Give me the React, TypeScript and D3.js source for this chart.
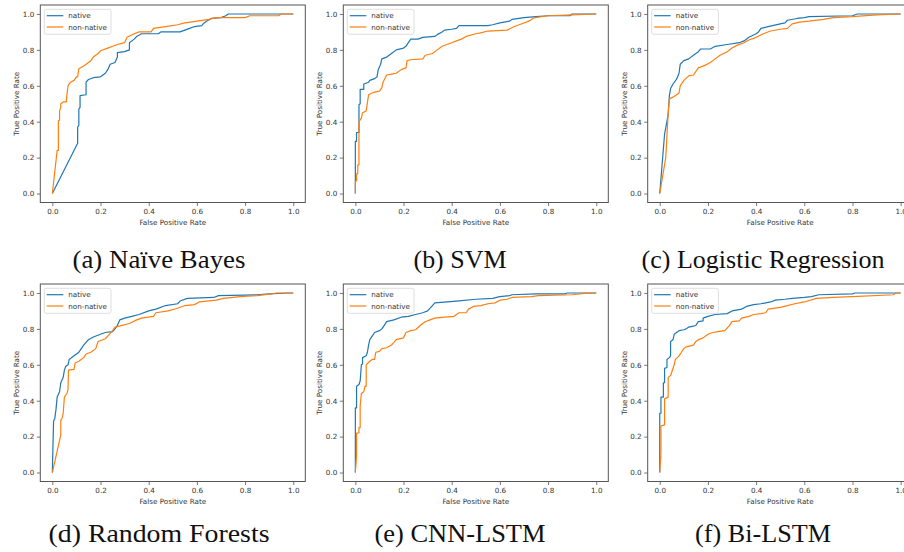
import React, { useEffect, useRef } from "react";
import * as d3 from "d3";

// ROC points [false positive rate, true positive rate]
const nbNative = [[0,0],[0.105,0.28],[0.105,0.37],[0.11,0.38],[0.11,0.47],[0.115,0.48],[0.115,0.545],[0.14,0.55],[0.14,0.62],[0.15,0.635],[0.17,0.645],[0.2,0.65],[0.21,0.66],[0.22,0.67],[0.23,0.69],[0.24,0.72],[0.26,0.73],[0.27,0.76],[0.27,0.785],[0.3,0.79],[0.32,0.8],[0.32,0.84],[0.34,0.86],[0.35,0.875],[0.37,0.89],[0.44,0.89],[0.45,0.9],[0.53,0.9],[0.55,0.91],[0.57,0.92],[0.59,0.93],[0.62,0.935],[0.63,0.95],[0.64,0.96],[0.66,0.975],[0.7,0.98],[0.72,0.99],[0.73,1.0],[1,1]];
const nbNonNative = [[0,0],[0.02,0.24],[0.025,0.24],[0.025,0.405],[0.03,0.41],[0.03,0.46],[0.035,0.48],[0.035,0.5],[0.045,0.51],[0.058,0.51],[0.06,0.545],[0.065,0.6],[0.075,0.62],[0.09,0.63],[0.1,0.65],[0.105,0.65],[0.11,0.695],[0.13,0.71],[0.14,0.72],[0.16,0.74],[0.17,0.76],[0.19,0.78],[0.2,0.795],[0.23,0.81],[0.25,0.82],[0.27,0.83],[0.3,0.84],[0.31,0.87],[0.34,0.89],[0.36,0.9],[0.41,0.9],[0.42,0.92],[0.47,0.93],[0.52,0.94],[0.55,0.95],[0.6,0.96],[0.65,0.97],[0.68,0.98],[0.8,0.98],[0.82,0.99],[0.94,0.99],[0.95,1.0],[1,1]];

const svmNative = [[0,0],[0,0.29],[0.005,0.29],[0.005,0.34],[0.015,0.34],[0.015,0.495],[0.02,0.5],[0.02,0.58],[0.035,0.58],[0.035,0.61],[0.055,0.62],[0.06,0.63],[0.08,0.64],[0.09,0.65],[0.095,0.69],[0.105,0.72],[0.11,0.75],[0.13,0.76],[0.15,0.78],[0.17,0.8],[0.2,0.81],[0.21,0.82],[0.22,0.84],[0.23,0.86],[0.26,0.86],[0.28,0.87],[0.33,0.875],[0.34,0.885],[0.36,0.9],[0.37,0.91],[0.4,0.915],[0.42,0.92],[0.43,0.935],[0.55,0.935],[0.57,0.94],[0.6,0.95],[0.64,0.96],[0.65,0.97],[0.7,0.98],[0.75,0.985],[0.8,0.99],[0.89,0.99],[0.9,1.0],[1,1]];
const svmNonNative = [[0,0],[0,0.07],[0.005,0.07],[0.005,0.11],[0.01,0.11],[0.01,0.16],[0.015,0.16],[0.015,0.4],[0.02,0.41],[0.025,0.42],[0.03,0.45],[0.045,0.46],[0.055,0.55],[0.07,0.56],[0.08,0.565],[0.1,0.57],[0.11,0.59],[0.115,0.62],[0.13,0.66],[0.15,0.665],[0.17,0.67],[0.19,0.69],[0.21,0.7],[0.215,0.74],[0.23,0.745],[0.28,0.75],[0.29,0.77],[0.32,0.78],[0.34,0.8],[0.36,0.82],[0.38,0.83],[0.4,0.84],[0.42,0.85],[0.44,0.86],[0.46,0.875],[0.5,0.89],[0.52,0.895],[0.55,0.905],[0.63,0.91],[0.66,0.93],[0.7,0.95],[0.72,0.96],[0.74,0.978],[0.8,0.99],[0.9,0.995],[1,1]];

const lrNative = [[0,0],[0.02,0.33],[0.035,0.44],[0.04,0.545],[0.045,0.585],[0.055,0.61],[0.07,0.637],[0.08,0.67],[0.085,0.72],[0.1,0.74],[0.12,0.75],[0.14,0.77],[0.16,0.79],[0.17,0.805],[0.21,0.805],[0.23,0.82],[0.28,0.83],[0.33,0.84],[0.35,0.85],[0.37,0.87],[0.4,0.89],[0.41,0.9],[0.42,0.92],[0.45,0.93],[0.5,0.945],[0.52,0.95],[0.53,0.965],[0.57,0.975],[0.6,0.98],[0.62,0.985],[0.8,0.99],[0.82,1.0],[1,1]];
const lrNonNative = [[0,0],[0.025,0.2],[0.035,0.45],[0.04,0.526],[0.045,0.53],[0.06,0.54],[0.08,0.56],[0.085,0.6],[0.1,0.63],[0.12,0.655],[0.14,0.66],[0.16,0.7],[0.19,0.715],[0.21,0.73],[0.23,0.75],[0.25,0.77],[0.28,0.79],[0.3,0.81],[0.32,0.825],[0.35,0.84],[0.37,0.855],[0.4,0.87],[0.43,0.89],[0.46,0.905],[0.5,0.915],[0.53,0.92],[0.55,0.945],[0.58,0.955],[0.62,0.96],[0.68,0.97],[0.72,0.98],[0.8,0.985],[0.9,0.995],[1,1]];

const rfNative = [[0,0],[0.005,0.285],[0.01,0.3],[0.015,0.35],[0.02,0.42],[0.03,0.45],[0.035,0.5],[0.045,0.53],[0.05,0.57],[0.055,0.59],[0.065,0.6],[0.07,0.63],[0.09,0.65],[0.11,0.67],[0.12,0.69],[0.13,0.71],[0.15,0.74],[0.17,0.755],[0.2,0.77],[0.22,0.78],[0.25,0.785],[0.26,0.8],[0.27,0.82],[0.28,0.85],[0.3,0.86],[0.33,0.87],[0.36,0.88],[0.4,0.9],[0.43,0.91],[0.47,0.93],[0.52,0.94],[0.53,0.955],[0.56,0.97],[0.67,0.975],[0.69,0.985],[0.85,0.99],[0.9,0.995],[0.98,1.0],[1,1]];
const rfNonNative = [[0,0],[0.035,0.21],[0.035,0.29],[0.04,0.3],[0.045,0.33],[0.05,0.42],[0.06,0.44],[0.065,0.46],[0.067,0.57],[0.09,0.575],[0.095,0.61],[0.11,0.62],[0.12,0.63],[0.13,0.64],[0.14,0.66],[0.16,0.67],[0.18,0.69],[0.19,0.73],[0.22,0.745],[0.23,0.76],[0.25,0.79],[0.26,0.81],[0.29,0.82],[0.32,0.83],[0.35,0.85],[0.37,0.86],[0.42,0.87],[0.43,0.89],[0.48,0.9],[0.52,0.915],[0.55,0.93],[0.59,0.935],[0.61,0.95],[0.68,0.96],[0.71,0.97],[0.78,0.98],[0.85,0.985],[0.91,0.995],[0.93,1.0],[1,1]];

const cnnNative = [[0,0],[0,0.36],[0.005,0.36],[0.005,0.48],[0.015,0.49],[0.02,0.51],[0.025,0.6],[0.03,0.605],[0.03,0.64],[0.045,0.65],[0.05,0.67],[0.055,0.71],[0.06,0.74],[0.07,0.76],[0.08,0.78],[0.1,0.79],[0.11,0.8],[0.12,0.82],[0.13,0.84],[0.16,0.85],[0.19,0.865],[0.22,0.87],[0.25,0.88],[0.28,0.89],[0.3,0.9],[0.32,0.93],[0.33,0.945],[0.42,0.955],[0.5,0.965],[0.57,0.97],[0.6,0.98],[0.64,0.985],[0.65,0.99],[0.75,0.995],[0.87,0.995],[0.88,1.0],[1,1]];
const cnnNonNative = [[0,0],[0.005,0.09],[0.005,0.22],[0.015,0.22],[0.015,0.25],[0.02,0.25],[0.02,0.37],[0.025,0.44],[0.035,0.45],[0.04,0.48],[0.045,0.48],[0.045,0.6],[0.06,0.62],[0.07,0.63],[0.08,0.63],[0.085,0.67],[0.1,0.675],[0.11,0.69],[0.13,0.695],[0.15,0.71],[0.17,0.74],[0.2,0.75],[0.21,0.78],[0.23,0.79],[0.25,0.795],[0.27,0.82],[0.29,0.84],[0.31,0.85],[0.33,0.86],[0.37,0.865],[0.41,0.87],[0.43,0.89],[0.46,0.89],[0.47,0.91],[0.49,0.925],[0.52,0.93],[0.55,0.94],[0.58,0.945],[0.6,0.96],[0.63,0.965],[0.65,0.975],[0.73,0.98],[0.76,0.985],[0.9,0.99],[0.95,0.998],[1,1]];

const biNative = [[0,0],[0,0.33],[0.005,0.33],[0.005,0.42],[0.015,0.42],[0.015,0.5],[0.02,0.5],[0.02,0.58],[0.03,0.585],[0.03,0.63],[0.04,0.64],[0.045,0.65],[0.045,0.73],[0.055,0.74],[0.06,0.77],[0.07,0.78],[0.08,0.79],[0.1,0.795],[0.11,0.8],[0.12,0.81],[0.14,0.815],[0.15,0.82],[0.16,0.84],[0.18,0.845],[0.18,0.86],[0.2,0.87],[0.23,0.88],[0.28,0.885],[0.3,0.9],[0.34,0.91],[0.36,0.925],[0.39,0.935],[0.42,0.94],[0.46,0.95],[0.48,0.96],[0.52,0.965],[0.55,0.97],[0.6,0.975],[0.63,0.98],[0.66,0.99],[0.8,0.995],[0.81,1.0],[1,1]];
const biNonNative = [[0,0],[0.005,0.11],[0.005,0.26],[0.02,0.265],[0.02,0.41],[0.035,0.42],[0.035,0.53],[0.045,0.54],[0.05,0.56],[0.06,0.6],[0.065,0.63],[0.08,0.65],[0.09,0.67],[0.1,0.69],[0.11,0.7],[0.14,0.71],[0.15,0.73],[0.16,0.74],[0.18,0.75],[0.2,0.77],[0.22,0.78],[0.24,0.785],[0.27,0.79],[0.29,0.82],[0.3,0.84],[0.33,0.845],[0.34,0.86],[0.37,0.87],[0.39,0.88],[0.42,0.885],[0.44,0.89],[0.45,0.91],[0.5,0.92],[0.53,0.93],[0.56,0.94],[0.6,0.95],[0.65,0.97],[0.72,0.975],[0.8,0.98],[0.97,0.99],[0.98,1.0],[1,1]];

const captions = ["(a) Naïve Bayes", "(b) SVM", "(c) Logistic Regression", "(d) Random Forests", "(e) CNN-LSTM", "(f) Bi-LSTM"];
const seriesNames = ["native", "non-native"];
const tickValues = [0, 0.2, 0.4, 0.6, 0.8, 1.0];
const panelSeries = [
  [nbNative, nbNonNative],
  [svmNative, svmNonNative],
  [lrNative, lrNonNative],
  [rfNative, rfNonNative],
  [cnnNative, cnnNonNative],
  [biNative, biNonNative],
];

// layout (pixels)
const W = 904, H = 552;
const colLeft = [40.3, 343.3, 647.7];
const rowTop = [5, 284];
const frameW = 265, frameH = 197.5;
const captionX = [159, 460, 763];
const captionY = [268, 542];
const captionWidth = [173, 93, 243, 221, 171, 136];
const colors = ["#1f77b4", "#ff7f0e"];
const sans = "'DejaVu Sans', sans-serif";

const App = () => {
  const svgRef = useRef(null);

  useEffect(() => {
    const svg = d3.select(svgRef.current);
    svg.selectAll("*").remove();

    svg.append("rect").attr("width", W).attr("height", H).attr("fill", "#fff");

    panelSeries.forEach((series, i) => {
      const col = i % 3, row = Math.floor(i / 3);
      const left = colLeft[col], top = rowTop[row];

      const x = d3.scaleLinear().domain([-0.05, 1.05]).range([left, left + frameW]);
      const y = d3.scaleLinear().domain([-0.05, 1.05]).range([top + frameH, top]);

      const g = svg.append("g");

      // curves, native first so non-native sits on top
      const line = d3.line().x(d => x(d[0])).y(d => y(d[1]));
      series.forEach((pts, k) => {
        g.append("path")
          .datum(pts)
          .attr("d", line)
          .attr("fill", "none")
          .attr("stroke", colors[k])
          .attr("stroke-width", 1.2)
          .attr("stroke-linejoin", "round");
      });

      // frame
      g.append("rect")
        .attr("x", left).attr("y", top)
        .attr("width", frameW).attr("height", frameH)
        .attr("fill", "none").attr("stroke", "#555").attr("stroke-width", 1);

      // axes
      const fmt = d3.format(".1f");
      const xAxis = g.append("g")
        .attr("transform", `translate(0,${top + frameH})`)
        .call(d3.axisBottom(x).tickValues(tickValues).tickFormat(fmt).tickSize(3.5).tickPadding(2.6));
      const yAxis = g.append("g")
        .attr("transform", `translate(${left},0)`)
        .call(d3.axisLeft(y).tickValues(tickValues).tickFormat(fmt).tickSize(3.5).tickPadding(2.5));
      [xAxis, yAxis].forEach(a => {
        a.select(".domain").remove();
        a.selectAll("line").attr("stroke", "#555").attr("stroke-width", 0.8);
        a.selectAll("text").attr("fill", "#333").style("font-size", "7.2px").style("font-family", sans);
      });

      g.append("text")
        .attr("x", x(0.5)).attr("y", top + frameH + 22)
        .attr("text-anchor", "middle")
        .style("font-size", "7.2px").style("font-family", sans).attr("fill", "#333")
        .text("False Positive Rate");
      g.append("text")
        .attr("transform", `translate(${left - 21},${y(0.5)}) rotate(-90)`)
        .attr("text-anchor", "middle")
        .style("font-size", "7.2px").style("font-family", sans).attr("fill", "#333")
        .text("True Positive Rate");

      // legend
      const lg = g.append("g").attr("transform", `translate(${left + 4},${top + 4.3})`);
      lg.append("rect")
        .attr("width", 66.7).attr("height", 25).attr("rx", 2)
        .attr("fill", "#fff").attr("fill-opacity", 0.8)
        .attr("stroke", "#d6d6d6").attr("stroke-width", 0.8);
      seriesNames.forEach((name, k) => {
        const ly = 6.4 + k * 11.3;
        lg.append("line")
          .attr("x1", 2.4).attr("x2", 19).attr("y1", ly).attr("y2", ly)
          .attr("stroke", colors[k]).attr("stroke-width", 1.2);
        lg.append("text")
          .attr("x", 24).attr("y", ly + 2.6)
          .style("font-size", "7.2px").style("font-family", sans).attr("fill", "#333")
          .text(name);
      });

      // caption
      svg.append("text")
        .attr("x", captionX[col]).attr("y", captionY[row])
        .attr("text-anchor", "middle")
        .attr("textLength", captionWidth[i])
        .attr("lengthAdjust", "spacingAndGlyphs")
        .style("font-size", "24.5px")
        .style("font-family", "'Liberation Serif', 'DejaVu Serif', serif")
        .attr("fill", "#111")
        .text(captions[i]);
    });
  }, []);

  return (
    <svg
      ref={svgRef}
      width={W}
      height={H}
      style={{ position: "absolute", left: 0, top: 0 }}
    ></svg>
  );
};

export default App;
